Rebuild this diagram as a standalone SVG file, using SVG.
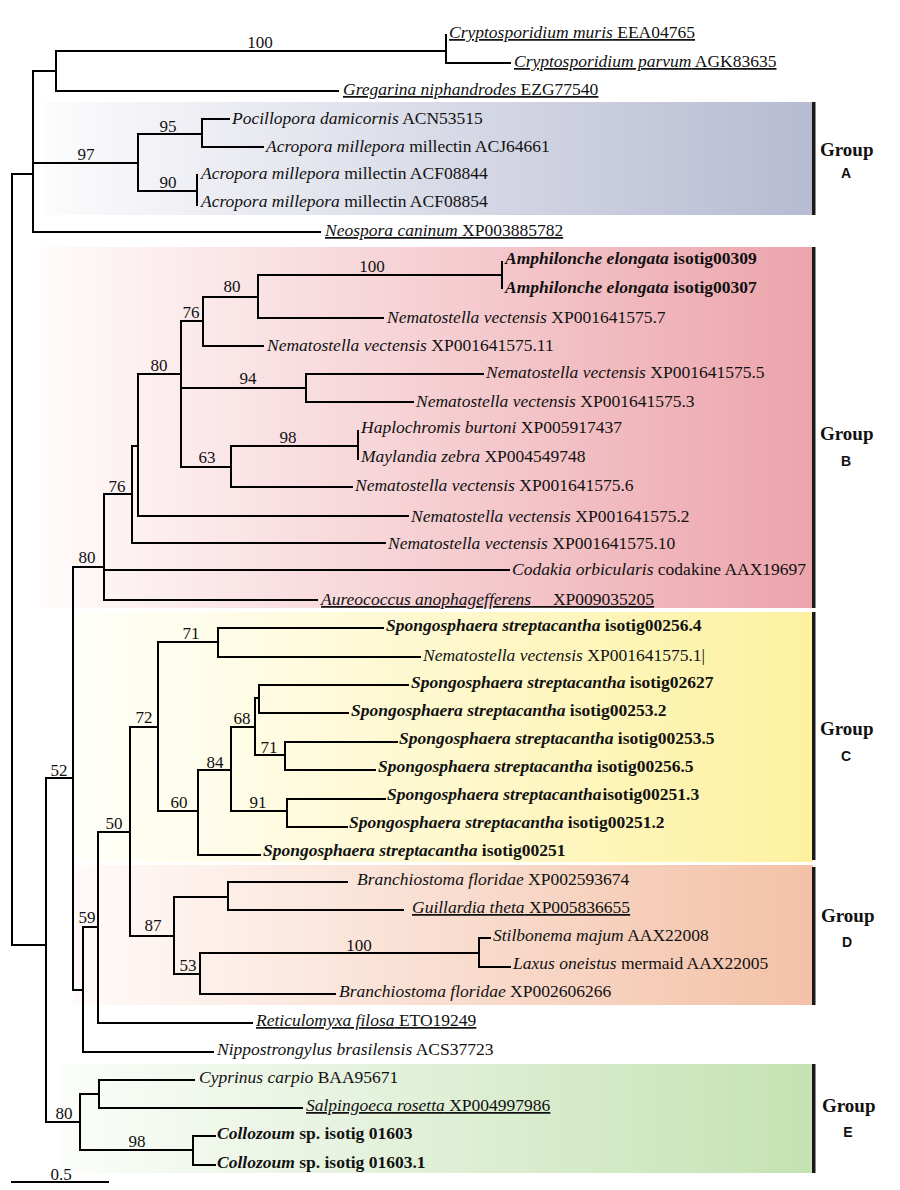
<svg xmlns="http://www.w3.org/2000/svg" width="900" height="1190" viewBox="0 0 900 1190">
<style>
.br{stroke:#000;stroke-width:2;fill:none;stroke-linecap:square}
.lf{font-family:"Liberation Serif",serif;font-size:17.5px;fill:#111}
.it{font-style:italic}
.bd{font-weight:bold}
.ul{text-decoration:underline}
.bs{font-family:"Liberation Serif",serif;font-size:17px;fill:#111;text-anchor:middle}
.gt{font-family:"Liberation Serif",serif;font-size:19px;font-weight:bold;fill:#111}
.gl{font-family:"Liberation Sans",Arial,sans-serif;font-size:14px;font-weight:bold;fill:#111;text-anchor:middle}
.bar{fill:#1a1a1a}
</style>
<defs>
<linearGradient id="gA" x1="0" y1="0" x2="1" y2="0"><stop offset="0" stop-color="#fcfcfd"/><stop offset="1" stop-color="#b7bbd2"/></linearGradient>
<linearGradient id="gB" x1="0" y1="0" x2="1" y2="0"><stop offset="0" stop-color="#fffbfb"/><stop offset="1" stop-color="#eca4ab"/></linearGradient>
<linearGradient id="gC" x1="0" y1="0" x2="1" y2="0"><stop offset="0" stop-color="#fffffa"/><stop offset="1" stop-color="#fdf1a0"/></linearGradient>
<linearGradient id="gD" x1="0" y1="0" x2="1" y2="0"><stop offset="0" stop-color="#fffaf9"/><stop offset="1" stop-color="#f3c1a7"/></linearGradient>
<linearGradient id="gE" x1="0" y1="0" x2="1" y2="0"><stop offset="0" stop-color="#fbfdfa"/><stop offset="1" stop-color="#c4e2b3"/></linearGradient>
</defs>
<rect width="900" height="1190" fill="#fff"/>

<g id="group-A"><rect x="43" y="102" width="770" height="113" fill="url(#gA)"/><rect class="bar" x="812" y="102" width="3.5" height="113"/><text class="gt" x="820" y="156">Group</text><text class="gl" x="846" y="178">A</text></g>
<g id="group-B"><rect x="40" y="247" width="773" height="361" fill="url(#gB)"/><rect class="bar" x="812" y="247" width="3.5" height="361"/><text class="gt" x="820" y="440">Group</text><text class="gl" x="846" y="466">B</text></g>
<g id="group-C"><rect x="73" y="612" width="740" height="250" fill="url(#gC)"/><rect class="bar" x="812" y="612" width="3.5" height="248"/><text class="gt" x="820" y="735">Group</text><text class="gl" x="846" y="761">C</text></g>
<g id="group-D"><rect x="73" y="865" width="740" height="140" fill="url(#gD)"/><rect class="bar" x="812" y="867" width="3.5" height="138"/><text class="gt" x="821" y="922">Group</text><text class="gl" x="847" y="947">D</text></g>
<g id="group-E"><rect x="60" y="1064" width="753" height="109" fill="url(#gE)"/><rect class="bar" x="812" y="1064" width="3.5" height="109"/><text class="gt" x="822" y="1112">Group</text><text class="gl" x="848" y="1137">E</text></g>

<g id="connectors" class="br">
<path d="M12,174 V945 M12,174 H33 M12,945 H46"/>
<path d="M33,71 V232 M33,71 H56 M33,163 H138 M33,232 H320"/>
<path d="M56,51 V91 M56,51 H446 M56,91 H338"/>
<path d="M446,35 V63 M446,63 H510"/>
<path d="M138,134 V191 M138,134 H202 M138,191 H197"/>
<path d="M202,119 V147 M202,119 H229 M202,147 H263"/>
<path d="M197,175 V205"/>
<path d="M46,778 V1122 M46,778 H73 M46,1122 H80"/>
<path d="M73,567 V990 M73,567 H104 M73,990 H83"/>
<path d="M104,494 V600 M104,494 H132 M104,570 H509 M104,600 H317"/>
<path d="M132,446 V543 M132,446 H138 M132,543 H385"/>
<path d="M138,374 V516 M138,374 H181 M138,516 H408"/>
<path d="M181,321 V467 M181,321 H203 M181,388 H306 M181,467 H231"/>
<path d="M203,297 V346 M203,297 H258 M203,346 H263"/>
<path d="M258,275 V318 M258,275 H502 M258,318 H383"/>
<path d="M502,262 V288"/>
<path d="M306,374 V402 M306,374 H483 M306,402 H413"/>
<path d="M231,446 V487 M231,446 H358 M231,487 H352"/>
<path d="M358,431 V459"/>
<path d="M83,927 V1052 M83,927 H98 M83,1052 H213"/>
<path d="M98,832 V1023 M98,832 H130 M98,1023 H252"/>
<path d="M130,727 V936 M130,727 H158 M130,936 H174"/>
<path d="M158,642 V811 M158,642 H218 M158,811 H198"/>
<path d="M218,628 V657 M218,628 H383 M218,657 H420"/>
<path d="M198,770 V855 M198,770 H231 M198,855 H260"/>
<path d="M231,727 V811 M231,727 H255 M231,811 H287"/>
<path d="M255,698 V755 M255,698 H259 M255,755 H285"/>
<path d="M259,685 V713 M259,685 H408 M259,713 H348"/>
<path d="M285,742 V770 M285,742 H397 M285,770 H375"/>
<path d="M287,799 V827 M287,799 H385 M287,827 H347"/>
<path d="M174,897 V974 M174,897 H228 M174,974 H200"/>
<path d="M228,882 V910 M228,882 H347 M228,910 H403"/>
<path d="M200,953 V994 M200,953 H479 M200,994 H335"/>
<path d="M479,938 V967 M479,938 H490 M479,967 H510"/>
<path d="M80,1094 V1150 M80,1094 H99 M80,1150 H193"/>
<path d="M99,1080 V1108 M99,1080 H194 M99,1108 H302"/>
<path d="M193,1136 V1165 M193,1136 H215 M193,1165 H215"/>
<path id="scale-bar" d="M12,1182 H108"/>
</g>

<g id="bootstrap">
<text class="bs" x="260" y="48">100</text>
<text class="bs" x="86" y="160">97</text>
<text class="bs" x="168" y="132">95</text>
<text class="bs" x="168" y="188">90</text>
<text class="bs" x="87" y="563">80</text>
<text class="bs" x="117" y="492">76</text>
<text class="bs" x="159" y="371">80</text>
<text class="bs" x="191" y="318">76</text>
<text class="bs" x="232" y="292">80</text>
<text class="bs" x="372" y="272">100</text>
<text class="bs" x="248" y="384">94</text>
<text class="bs" x="207" y="463">63</text>
<text class="bs" x="288" y="443">98</text>
<text class="bs" x="59" y="776">52</text>
<text class="bs" x="144" y="723">72</text>
<text class="bs" x="191" y="639">71</text>
<text class="bs" x="179" y="808">60</text>
<text class="bs" x="114" y="829">50</text>
<text class="bs" x="215" y="768">84</text>
<text class="bs" x="242" y="724">68</text>
<text class="bs" x="258" y="808">91</text>
<text class="bs" x="269" y="753">71</text>
<text class="bs" x="87" y="923">59</text>
<text class="bs" x="153" y="931">87</text>
<text class="bs" x="188" y="971">53</text>
<text class="bs" x="359" y="951">100</text>
<text class="bs" x="64" y="1119">80</text>
<text class="bs" x="137" y="1147">98</text>
<text class="bs" x="61" y="1180">0.5</text>
</g>

<g id="leaf-crypto-muris"><text class="lf ul" x="449" y="38"><tspan class="it">Cryptosporidium muris</tspan> EEA04765</text></g>
<g id="leaf-crypto-parvum"><text class="lf ul" x="514" y="67"><tspan class="it">Cryptosporidium parvum</tspan> AGK83635</text></g>
<g id="leaf-gregarina"><text class="lf ul" x="343" y="95"><tspan class="it">Gregarina niphandrodes</tspan> EZG77540</text></g>
<g id="leaf-pocillopora"><text class="lf" x="232" y="124"><tspan class="it">Pocillopora damicornis</tspan> ACN53515</text></g>
<g id="leaf-acj64661"><text class="lf" x="266" y="152"><tspan class="it">Acropora millepora</tspan> millectin ACJ64661</text></g>
<g id="leaf-acf08844"><text class="lf" x="201" y="179"><tspan class="it">Acropora millepora</tspan> millectin ACF08844</text></g>
<g id="leaf-acf08854"><text class="lf" x="201" y="207"><tspan class="it">Acropora millepora</tspan> millectin ACF08854</text></g>
<g id="leaf-neospora"><text class="lf ul" x="325" y="236"><tspan class="it">Neospora caninum</tspan> XP003885782</text></g>

<g id="leaf-amph-00309"><text class="lf bd" x="505" y="264"><tspan class="it">Amphilonche elongata</tspan>  isotig00309</text></g>
<g id="leaf-amph-00307"><text class="lf bd" x="505" y="293"><tspan class="it">Amphilonche elongata</tspan>  isotig00307</text></g>
<g id="leaf-nv-7"><text class="lf" x="387" y="323"><tspan class="it">Nematostella vectensis</tspan> XP001641575.7</text></g>
<g id="leaf-nv-11"><text class="lf" x="267" y="351"><tspan class="it">Nematostella vectensis</tspan> XP001641575.11</text></g>
<g id="leaf-nv-5"><text class="lf" x="486" y="378"><tspan class="it">Nematostella vectensis</tspan> XP001641575.5</text></g>
<g id="leaf-nv-3"><text class="lf" x="416" y="407"><tspan class="it">Nematostella vectensis</tspan> XP001641575.3</text></g>
<g id="leaf-haplochromis"><text class="lf" x="361" y="433"><tspan class="it">Haplochromis burtoni</tspan> XP005917437</text></g>
<g id="leaf-maylandia"><text class="lf" x="361" y="462"><tspan class="it">Maylandia zebra</tspan> XP004549748</text></g>
<g id="leaf-nv-6"><text class="lf" x="355" y="491"><tspan class="it">Nematostella vectensis</tspan> XP001641575.6</text></g>
<g id="leaf-nv-2"><text class="lf" x="411" y="522"><tspan class="it">Nematostella vectensis</tspan> XP001641575.2</text></g>
<g id="leaf-nv-10"><text class="lf" x="388" y="549"><tspan class="it">Nematostella vectensis</tspan> XP001641575.10</text></g>
<g id="leaf-codakia"><text class="lf" x="512" y="575"><tspan class="it">Codakia orbicularis</tspan> codakine AAX19697</text></g>
<g id="leaf-aureococcus"><text class="lf ul" x="321" y="605" style="white-space:pre"><tspan class="it">Aureococcus anophagefferens</tspan>     XP009035205</text></g>

<g id="leaf-ss-00256-4"><text class="lf bd" x="386" y="631"><tspan class="it">Spongosphaera streptacantha</tspan> isotig00256.4</text></g>
<g id="leaf-nv-1"><text class="lf" x="423" y="661"><tspan class="it">Nematostella vectensis</tspan> XP001641575.1|</text></g>
<g id="leaf-ss-02627"><text class="lf bd" x="411" y="688"><tspan class="it">Spongosphaera streptacantha</tspan> isotig02627</text></g>
<g id="leaf-ss-00253-2"><text class="lf bd" x="351" y="716"><tspan class="it">Spongosphaera streptacantha</tspan> isotig00253.2</text></g>
<g id="leaf-ss-00253-5"><text class="lf bd" x="399" y="744"><tspan class="it">Spongosphaera streptacantha</tspan> isotig00253.5</text></g>
<g id="leaf-ss-00256-5"><text class="lf bd" x="378" y="772"><tspan class="it">Spongosphaera streptacantha</tspan> isotig00256.5</text></g>
<g id="leaf-ss-00251-3"><text class="lf bd" x="387" y="800"><tspan class="it">Spongosphaera streptacantha</tspan><tspan dx="1">isotig00251.3</tspan></text></g>
<g id="leaf-ss-00251-2"><text class="lf bd" x="349" y="828"><tspan class="it">Spongosphaera streptacantha</tspan> isotig00251.2</text></g>
<g id="leaf-ss-00251"><text class="lf bd" x="263" y="856"><tspan class="it">Spongosphaera streptacantha</tspan> isotig00251</text></g>

<g id="leaf-branchiostoma-1"><text class="lf" x="357" y="885"><tspan class="it">Branchiostoma floridae</tspan> XP002593674</text></g>
<g id="leaf-guillardia"><text class="lf ul" x="412" y="913"><tspan class="it">Guillardia theta</tspan> XP005836655</text></g>
<g id="leaf-stilbonema"><text class="lf" x="493" y="941"><tspan class="it">Stilbonema majum</tspan> AAX22008</text></g>
<g id="leaf-laxus"><text class="lf" x="513" y="969"><tspan class="it">Laxus oneistus</tspan> mermaid AAX22005</text></g>
<g id="leaf-branchiostoma-2"><text class="lf" x="339" y="997"><tspan class="it">Branchiostoma floridae</tspan> XP002606266</text></g>

<g id="leaf-reticulomyxa"><text class="lf ul" x="256" y="1026"><tspan class="it">Reticulomyxa filosa</tspan> ETO19249</text></g>
<g id="leaf-nippostrongylus"><text class="lf" x="217" y="1055"><tspan class="it">Nippostrongylus brasilensis</tspan> ACS37723</text></g>

<g id="leaf-cyprinus"><text class="lf" x="199" y="1083"><tspan class="it">Cyprinus carpio</tspan> BAA95671</text></g>
<g id="leaf-salpingoeca"><text class="lf ul" x="306" y="1111"><tspan class="it">Salpingoeca rosetta</tspan> XP004997986</text></g>
<g id="leaf-collozoum-1"><text class="lf bd" x="217" y="1139"><tspan class="it">Collozoum</tspan> sp. isotig 01603</text></g>
<g id="leaf-collozoum-2"><text class="lf bd" x="217" y="1168"><tspan class="it">Collozoum</tspan> sp. isotig 01603.1</text></g>
</svg>
